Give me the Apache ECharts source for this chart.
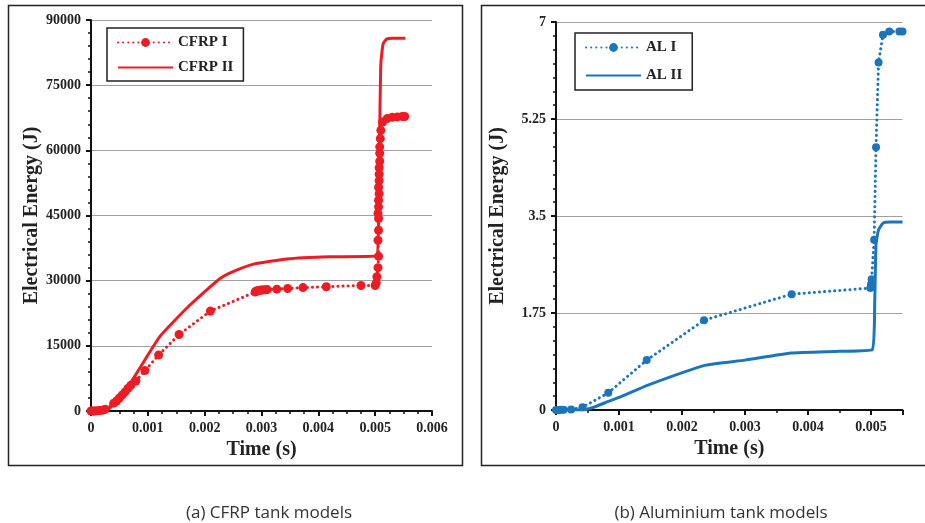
<!DOCTYPE html>
<html>
<head>
<meta charset="utf-8">
<script src="https://cdn.jsdelivr.net/npm/echarts@6/dist/echarts.min.js"></script>
<style>
  html, body { margin: 0; padding: 0; background: #fff; }
  #main { width: 925px; height: 523px; }
</style>
</head>
<body>
<div id="main"></div>
<script>
// CFRP I (dotted, markers)
var cfrpTime1 = [0, 0.00003, 0.00006, 0.0001, 0.00015, 0.0002, 0.00025, 0.0004, 0.00045, 0.0005,
  0.00055, 0.0006, 0.00065, 0.0007, 0.00079, 0.00095, 0.00119, 0.00155, 0.0021, 0.00289,
  0.0029, 0.00292, 0.00294, 0.00296, 0.00298, 0.003, 0.00305, 0.0031, 0.00327, 0.00346,
  0.00373, 0.00414, 0.00475, 0.00500, 0.00502, 0.00503, 0.00505, 0.00506, 0.00505, 0.00506,
  0.00506, 0.00505, 0.00506, 0.00506, 0.00507, 0.00506, 0.00507, 0.00507, 0.00507, 0.00508,
  0.00508, 0.00508, 0.00509, 0.0051, 0.00513, 0.00521, 0.0053, 0.00539, 0.00548, 0.00552];
var cfrpEnergy1 = [0, 0, 0, 50, 100, 200, 400, 1800, 2300, 3000,
  3700, 4400, 5200, 5900, 6900, 9300, 12900, 17600, 23000, 27400,
  27550, 27650, 27700, 27750, 27800, 27850, 27900, 27950, 28050, 28200,
  28400, 28600, 28900, 28900, 29500, 30900, 33000, 35600, 39300, 41600,
  44300, 45500, 47000, 48500, 50000, 51500, 53000, 54500, 56000, 57500,
  59300, 60800, 62700, 64600, 66500, 67300, 67600, 67700, 67800, 67800];

// CFRP II (solid)
var cfrpTime2 = [0, 0.0003, 0.00069, 0.00121, 0.00171, 0.00227, 0.00254, 0.00286, 0.00345, 0.0042,
  0.00502, 0.00506, 0.00508, 0.0051, 0.00514, 0.0052, 0.0053, 0.00553];
var cfrpEnergy2 = [0, 300, 6400, 17100, 24000, 30500, 32300, 33800, 35000, 35500,
  35700, 45000, 65000, 80000, 84500, 85600, 85800, 85800];

// AL I (dotted, markers)
var alTime1 = [0, 0.00002, 0.00005, 0.00008, 0.00012, 0.00024, 0.00042, 0.00083, 0.00144, 0.00235,
  0.00374, 0.00499, 0.005, 0.00501, 0.00505, 0.00508, 0.00512, 0.00519, 0.00529, 0.00545, 0.0055];
var alEnergy1 = [0, 0, 0, 0.003, 0.005, 0.01, 0.05, 0.31, 0.90, 1.62,
  2.09, 2.20, 2.27, 2.36, 3.07, 4.74, 6.27, 6.77, 6.83, 6.83, 6.83];

// AL II (solid)
var alTime2 = [0, 0.0004, 0.0006, 0.00082, 0.00103, 0.00146, 0.00238, 0.003, 0.00373, 0.0045,
  0.00502, 0.00506, 0.00508, 0.00512, 0.00519, 0.0053, 0.0055];
var alEnergy2 = [0, 0, 0.05, 0.15, 0.24, 0.45, 0.81, 0.9, 1.03, 1.06,
  1.09, 2.0, 3.0, 3.25, 3.37, 3.39, 3.39];

var cfrpTicks = [0, 15000, 30000, 45000, 60000, 75000, 90000];
var alTicks = [0, 1.75, 3.5, 5.25, 7];

function pairs(xs, ys) {
  return xs.map(function (x, i) { return [x, ys[i]] })
}

var red = '#ED1C24'
var blue = '#1B75BC'
var serif = '"Liberation Serif", "Times New Roman", serif'
var noMarker = { color: 'rgba(0,0,0,0)', borderWidth: 0 }

function xAxis(gridIndex, max, split) {
  return {
    type: 'value', gridIndex: gridIndex, min: 0, max: max, interval: 0.001,
    name: 'Time (s)', nameLocation: 'middle', nameGap: 28,
    nameTextStyle: { fontFamily: serif, fontWeight: 'bold', fontSize: 20, color: '#222' },
    axisLine: { show: true, onZero: false, lineStyle: { color: '#111', width: 2 } },
    axisTick: { show: true, length: 5, lineStyle: { color: '#111', width: 2 } },
    minorTick: { show: true, splitNumber: split, length: 3, lineStyle: { color: '#111', width: 1.5 } },
    splitLine: { show: false },
    axisLabel: {
      fontFamily: serif, fontWeight: 'bold', fontSize: 14, color: '#222', margin: 10,
      showMaxLabel: max === 0.006,
      formatter: function (v) { return v === 0 ? '0' : v.toFixed(3) }
    }
  }
}

function yAxis(gridIndex, ticks, split) {
  return {
    type: 'value', gridIndex: gridIndex, min: 0, max: ticks[ticks.length - 1],
    interval: ticks[1],
    name: 'Electrical Energy (J)', nameLocation: 'middle', nameGap: 48,
    nameTextStyle: { fontFamily: serif, fontWeight: 'bold', fontSize: 20, color: '#222' },
    axisLine: { show: true, lineStyle: { color: '#111', width: 2 } },
    axisTick: { show: true, length: 5, lineStyle: { color: '#111', width: 2 } },
    minorTick: { show: true, splitNumber: split, length: 3, lineStyle: { color: '#111', width: 1.5 } },
    splitLine: { show: true, lineStyle: { color: '#a0a0a0', width: 1 } },
    axisLabel: {
      fontFamily: serif, fontWeight: 'bold', fontSize: 14, color: '#222', margin: 10,
      formatter: function (v) { return String(v) }
    }
  }
}

var dotted = [0.1, 5]

var myChart = echarts.init(document.getElementById('main'))
var option = {
  animation: false,
  grid: [
    { left: 91, top: 20, width: 341, height: 391 },
    { left: 556, top: 22, width: 346.5, height: 388 }
  ],
  xAxis: [xAxis(0, 0.006, 4), xAxis(1, 0.0055, 2)],
  yAxis: [yAxis(0, cfrpTicks, 5), yAxis(1, alTicks, 7)],
  legend: [
    {
      data: ['CFRP I', { name: 'CFRP II', itemStyle: noMarker }],
      orient: 'vertical', left: 107, top: 28,
      itemWidth: 55, itemHeight: 11, itemGap: 10, padding: [7, 10, 6, 10],
      borderColor: '#222', borderWidth: 1.5,
      textStyle: { fontFamily: serif, fontWeight: 'bold', fontSize: 15, color: '#222' }
    },
    {
      data: ['AL I', { name: 'AL II', itemStyle: noMarker }],
      orient: 'vertical', left: 575, top: 33,
      itemWidth: 55, itemHeight: 11, itemGap: 13, padding: [7, 10, 7, 10],
      borderColor: '#222', borderWidth: 1.5,
      textStyle: { fontFamily: serif, fontWeight: 'bold', fontSize: 15, color: '#222' }
    }
  ],
  series: [
    {
      name: 'CFRP I', type: 'line', xAxisIndex: 0, yAxisIndex: 0,
      data: pairs(cfrpTime1, cfrpEnergy1),
      symbol: 'circle', symbolSize: 9,
      itemStyle: { color: red },
      lineStyle: { color: red, width: 3, type: dotted, cap: 'round' }
    },
    {
      name: 'CFRP II', type: 'line', xAxisIndex: 0, yAxisIndex: 0,
      data: pairs(cfrpTime2, cfrpEnergy2),
      symbol: 'none', smooth: 0.15,
      itemStyle: { color: red },
      lineStyle: { color: red, width: 3 }
    },
    {
      name: 'AL I', type: 'line', xAxisIndex: 1, yAxisIndex: 1,
      data: pairs(alTime1, alEnergy1),
      symbol: 'circle', symbolSize: 8,
      itemStyle: { color: blue },
      lineStyle: { color: blue, width: 3, type: dotted, cap: 'round' }
    },
    {
      name: 'AL II', type: 'line', xAxisIndex: 1, yAxisIndex: 1,
      data: pairs(alTime2, alEnergy2),
      symbol: 'none', smooth: 0.15,
      itemStyle: { color: blue },
      lineStyle: { color: blue, width: 3 }
    }
  ],
  graphic: [
    { type: 'rect', shape: { x: 8.5, y: 5.5, width: 454, height: 460 },
      style: { fill: 'none', stroke: '#222', lineWidth: 1.5 }, z: -1 },
    { type: 'rect', shape: { x: 481.5, y: 5.5, width: 460, height: 460 },
      style: { fill: 'none', stroke: '#222', lineWidth: 1.5 }, z: -1 },
    { type: 'text', x: 269, y: 513,
      style: { text: '(a) CFRP tank models', fontFamily: '"Open Sans", sans-serif', fontSize: 17,
        fill: '#333', textAlign: 'center', textVerticalAlign: 'middle' } },
    { type: 'text', x: 721, y: 513,
      style: { text: '(b) Aluminium tank models', fontFamily: '"Open Sans", sans-serif', fontSize: 17,
        fill: '#333', textAlign: 'center', textVerticalAlign: 'middle' } }
  ]
}
myChart.setOption(option)
</script>
</body>
</html>
